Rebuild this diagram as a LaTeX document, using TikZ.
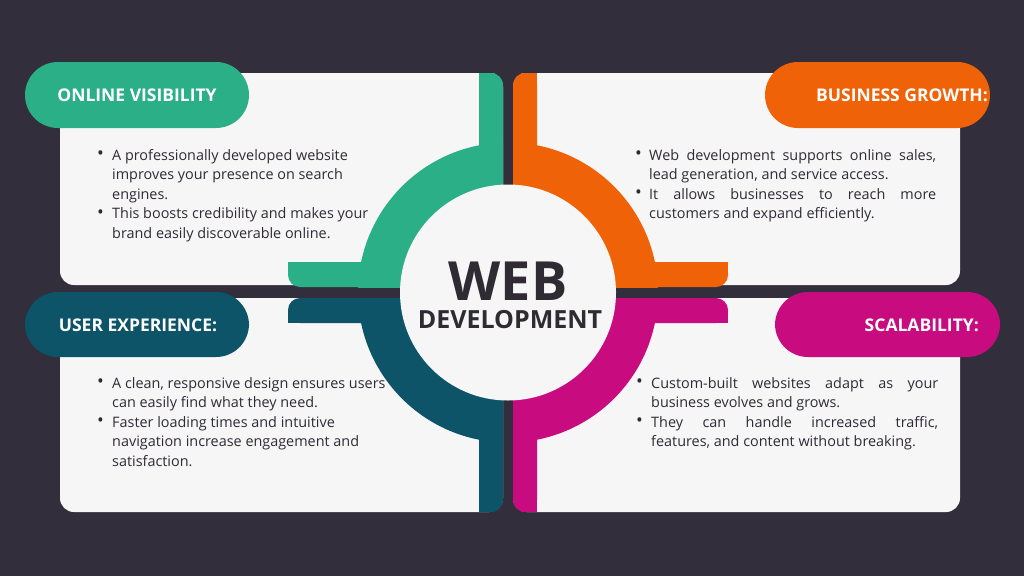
\documentclass[tikz,border=0pt]{standalone}
\usepackage{fontspec}
\setmainfont{Open Sans}
\definecolor{bg}{HTML}{332E3B}
\definecolor{cteal}{HTML}{2BAF87}
\definecolor{corange}{HTML}{F06208}
\definecolor{cdark}{HTML}{0D5468}
\definecolor{cmag}{HTML}{C80C80}
\definecolor{card}{HTML}{F7F6F7}
\definecolor{txt}{HTML}{2E2B33}
\newcommand{\bul}[1]{\makebox[#1][l]{\raisebox{0.5pt}{\fontsize{18}{18}\selectfont•}}}
\begin{document}
\begin{tikzpicture}[x=1pt,y=-1pt,
  cardbox/.style={fill=card,rounded corners=14pt},
  pill/.style={rounded corners=33pt},
  pilltext/.style={text=white,font=\fontsize{17.5}{20}\selectfont\bfseries,inner sep=0pt},
  body/.style={text=txt,font=\fontsize{14.4}{19.6}\selectfont,align=left,anchor=base west,inner sep=0pt}]
\fill[bg] (0,0) rectangle (1024,576);
\useasboundingbox (0,0) rectangle (1024,576);
% cards
\fill[cardbox] (60,73) rectangle (503,285);
\fill[cardbox] (513,73) rectangle (960,285);
\fill[cardbox] (60,298) rectangle (503,512);
\fill[cardbox] (513,298) rectangle (960,512);
\coordinate (c) at (508,292.5);
% TL teal
\begin{scope}
\clip (0,0) rectangle (503,287);
\fill[cteal] (c) circle (150);
\end{scope}
\fill[cteal,rounded corners=12pt] (479,73) rectangle (503,200);
\fill[cteal] (479,73) rectangle (495,200);
\fill[cteal,rounded corners=12pt] (288,262) rectangle (400,287);
\fill[cteal] (288,262) rectangle (400,275);
\fill[cteal] (300,262) rectangle (400,287);
% TR orange
\begin{scope}
\clip (513,0) rectangle (1024,287);
\fill[corange] (c) circle (150);
\end{scope}
\fill[corange,rounded corners=12pt] (513,73) rectangle (537,200);
\fill[corange] (521,73) rectangle (537,200);
\fill[corange,rounded corners=12pt] (600,262) rectangle (728,287);
\fill[corange] (600,262) rectangle (728,275);
\fill[corange] (600,262) rectangle (716,287);
% BL dark teal
\begin{scope}
\clip (0,298) rectangle (503,576);
\fill[cdark] (c) circle (150);
\end{scope}
\fill[cdark,rounded corners=12pt] (479,380) rectangle (503,512);
\fill[cdark] (479,380) rectangle (495,512);
\fill[cdark,rounded corners=12pt] (288,298) rectangle (400,323);
\fill[cdark] (288,310) rectangle (400,323);
\fill[cdark] (300,298) rectangle (400,323);
% BR magenta
\begin{scope}
\clip (513,298) rectangle (1024,576);
\fill[cmag] (c) circle (150);
\end{scope}
\fill[cmag,rounded corners=12pt] (513,380) rectangle (537,512);
\fill[cmag] (521,380) rectangle (537,512);
\fill[cmag,rounded corners=12pt] (600,298) rectangle (728,323);
\fill[cmag] (600,310) rectangle (728,323);
\fill[cmag] (600,298) rectangle (716,323);
% center
\fill[card] (c) circle (108);
\node[text=txt,font=\fontsize{54}{56}\selectfont\bfseries,inner sep=0pt] (web) at (508,281) {WEB};
\node[text=txt,font=\fontsize{25}{28}\selectfont\bfseries,inner sep=0pt] (dev) at (510,320) {DEVELOPMENT};
% pills
\fill[cteal,pill] (25,62) rectangle (249,128);
\node[pilltext] (p1) at (137,95) {ONLINE VISIBILITY};
\fill[corange,pill] (765,62) rectangle (990,128);
\node[pilltext,anchor=east] (p2) at (988,95) {BUSINESS GROWTH:};
\fill[cdark,pill] (25,292) rectangle (249,357);
\node[pilltext] (p3) at (138,325) {USER EXPERIENCE:};
\fill[cmag,pill] (775,292) rectangle (1000,357);
\node[pilltext,anchor=east] (p4) at (979,325) {SCALABILITY:};
% texts
\node[body] (t1) at (97,238.4) {\bul{15pt}A professionally developed website\\\hspace*{15pt}improves your presence on search\\\hspace*{15pt}engines.\\\bul{15pt}This boosts credibility and makes your\\\hspace*{15pt}brand easily discoverable online.};
\node[body] (t2) at (635,218.8) {\bul{14pt}\makebox[287pt][s]{Web development supports online sales,}\\\hspace*{14pt}lead generation, and service access.\\\bul{14pt}\makebox[287pt][s]{It allows businesses to reach more}\\\hspace*{14pt}customers and expand efficiently.};
\node[body] (t3) at (97,466.4) {\bul{15pt}A clean, responsive design ensures users\\\hspace*{15pt}can easily find what they need.\\\bul{15pt}Faster loading times and intuitive\\\hspace*{15pt}navigation increase engagement and\\\hspace*{15pt}satisfaction.};
\node[body] (t4) at (636,446.8) {\bul{15pt}\makebox[287pt][s]{Custom-built websites adapt as your}\\\hspace*{15pt}business evolves and grows.\\\bul{15pt}\makebox[287pt][s]{They can handle increased traffic,}\\\hspace*{15pt}features, and content without breaking.};
\end{tikzpicture}
\end{document}
